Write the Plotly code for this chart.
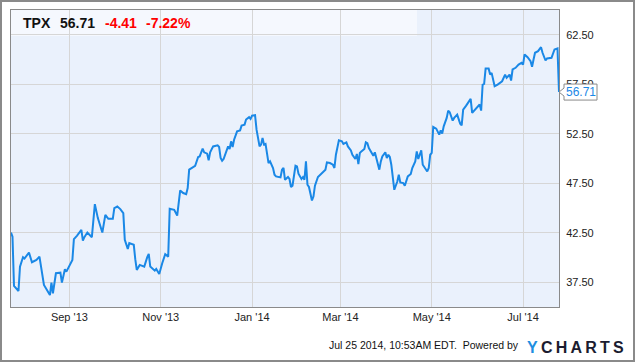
import plotly.graph_objects as go

# ---------------- data ----------------
ticker = "TPX"
last_price = 56.71
change = -4.41
change_pct = -7.22

dates = [
    "2013-07-24", "2013-07-25", "2013-07-26", "2013-07-29", "2013-07-30", "2013-08-01", "2013-08-02",
    "2013-08-05", "2013-08-07", "2013-08-10", "2013-08-12", "2013-08-15", "2013-08-19", "2013-08-20",
    "2013-08-21", "2013-08-22", "2013-08-23", "2013-08-26", "2013-08-27", "2013-08-29", "2013-08-30",
    "2013-09-03", "2013-09-04", "2013-09-06", "2013-09-09", "2013-09-10", "2013-09-11", "2013-09-13",
    "2013-09-16", "2013-09-18", "2013-09-20", "2013-09-23", "2013-09-25", "2013-09-27", "2013-09-30",
    "2013-10-01", "2013-10-03", "2013-10-05", "2013-10-07", "2013-10-08", "2013-10-10", "2013-10-11",
    "2013-10-14", "2013-10-15", "2013-10-16", "2013-10-18", "2013-10-21", "2013-10-23", "2013-10-24",
    "2013-10-25", "2013-10-28", "2013-10-29", "2013-10-31", "2013-11-02", "2013-11-04", "2013-11-06",
    "2013-11-07", "2013-11-10", "2013-11-12", "2013-11-14", "2013-11-16", "2013-11-18", "2013-11-19",
    "2013-11-20", "2013-11-22", "2013-11-24", "2013-11-26", "2013-11-27", "2013-11-29", "2013-11-30",
    "2013-12-02", "2013-12-03", "2013-12-04", "2013-12-06", "2013-12-09", "2013-12-10", "2013-12-11",
    "2013-12-12", "2013-12-13", "2013-12-15", "2013-12-16", "2013-12-17", "2013-12-18", "2013-12-19",
    "2013-12-20", "2013-12-22", "2013-12-24", "2013-12-25", "2013-12-27", "2013-12-28", "2013-12-30",
    "2013-12-31", "2014-01-01", "2014-01-03", "2014-01-04", "2014-01-06", "2014-01-07", "2014-01-08",
    "2014-01-09", "2014-01-10", "2014-01-11", "2014-01-12", "2014-01-13", "2014-01-15", "2014-01-16",
    "2014-01-17", "2014-01-20", "2014-01-21", "2014-01-22", "2014-01-23", "2014-01-25", "2014-01-26",
    "2014-01-27", "2014-01-28", "2014-01-30", "2014-01-31", "2014-02-01", "2014-02-03", "2014-02-04",
    "2014-02-05", "2014-02-06", "2014-02-07", "2014-02-08", "2014-02-10", "2014-02-11", "2014-02-12",
    "2014-02-14", "2014-02-16", "2014-02-18", "2014-02-19", "2014-02-20", "2014-02-22", "2014-02-24",
    "2014-02-25", "2014-02-26", "2014-02-27", "2014-02-28", "2014-03-02", "2014-03-03", "2014-03-05",
    "2014-03-06", "2014-03-08", "2014-03-09", "2014-03-11", "2014-03-12", "2014-03-13", "2014-03-14",
    "2014-03-15", "2014-03-17", "2014-03-18", "2014-03-19", "2014-03-20", "2014-03-22", "2014-03-23",
    "2014-03-24", "2014-03-26", "2014-03-27", "2014-03-28", "2014-03-29", "2014-03-31", "2014-04-01",
    "2014-04-02", "2014-04-03", "2014-04-04", "2014-04-05", "2014-04-06", "2014-04-08", "2014-04-09",
    "2014-04-10", "2014-04-12", "2014-04-13", "2014-04-15", "2014-04-17", "2014-04-18", "2014-04-20",
    "2014-04-21", "2014-04-22", "2014-04-24", "2014-04-25", "2014-04-26", "2014-04-28", "2014-04-29",
    "2014-04-30", "2014-05-01", "2014-05-02", "2014-05-04", "2014-05-06", "2014-05-07", "2014-05-08",
    "2014-05-09", "2014-05-11", "2014-05-12", "2014-05-13", "2014-05-15", "2014-05-16", "2014-05-18",
    "2014-05-20", "2014-05-21", "2014-05-22", "2014-05-24", "2014-05-27", "2014-05-28", "2014-05-30",
    "2014-06-01", "2014-06-02", "2014-06-03", "2014-06-04", "2014-06-05", "2014-06-06", "2014-06-08",
    "2014-06-09", "2014-06-10", "2014-06-11", "2014-06-12", "2014-06-14", "2014-06-16", "2014-06-17",
    "2014-06-19", "2014-06-20", "2014-06-21", "2014-06-22", "2014-06-23", "2014-06-24", "2014-06-26",
    "2014-06-28", "2014-06-30", "2014-07-01", "2014-07-02", "2014-07-04", "2014-07-06", "2014-07-07",
    "2014-07-08", "2014-07-09", "2014-07-11", "2014-07-12", "2014-07-13", "2014-07-14", "2014-07-15",
    "2014-07-16", "2014-07-17", "2014-07-20", "2014-07-22", "2014-07-23", "2014-07-24", "2014-07-25",
]

prices = [
    42.52, 42.09, 37.13, 36.62, 39.08, 40.03, 39.89,
    40.50, 39.52, 39.76, 40.09, 37.23, 36.21, 37.46,
    36.39, 37.23, 38.41, 38.47, 37.46, 38.82, 38.57,
    39.76, 41.85, 42.19, 42.79, 41.71, 42.05, 42.52,
    42.05, 45.39, 43.98, 42.52, 44.31, 43.91, 43.91,
    44.99, 45.15, 44.89, 44.48, 41.78, 40.87, 41.45,
    41.28, 39.83, 38.75, 39.25, 39.08, 40.03, 40.36,
    39.08, 38.67, 38.85, 38.34, 39.42, 40.33, 40.09,
    44.92, 44.82, 44.24, 46.77, 46.51, 46.39, 47.01,
    48.87, 49.04, 49.27, 50.15, 50.21, 50.99, 50.62,
    50.49, 49.81, 50.62, 51.22, 51.33, 51.16, 50.05,
    49.78, 49.95, 50.72, 51.22, 50.96, 51.73, 51.16,
    51.90, 52.74, 52.84, 53.32, 53.42, 53.93, 54.18,
    54.00, 54.33, 54.38, 52.91, 51.22, 51.40, 52.07,
    51.40, 51.47, 50.56, 49.54, 49.71, 49.04, 48.36,
    48.19, 48.09, 48.87, 49.04, 47.85, 48.13, 47.93,
    47.12, 47.25, 49.27, 49.20, 48.46, 47.93, 48.13,
    47.85, 49.71, 47.35, 47.12, 45.76, 46.16, 47.25,
    48.13, 48.46, 48.80, 48.87, 49.61, 49.54, 49.37,
    49.04, 50.38, 51.06, 51.83, 51.73, 51.47, 51.63,
    51.22, 50.82, 50.38, 49.95, 50.46, 49.44, 50.56,
    50.72, 50.96, 51.63, 51.55, 51.06, 50.62, 50.28,
    50.62, 49.54, 48.87, 49.71, 50.21, 50.62, 50.05,
    50.38, 50.15, 49.37, 48.36, 46.84, 47.68, 48.36,
    47.58, 47.52, 47.25, 48.19, 48.43, 49.04, 49.71,
    50.72, 49.95, 50.82, 49.37, 49.14, 48.69, 49.04,
    50.38, 50.56, 53.19, 53.02, 52.41, 52.84, 52.51,
    53.25, 54.10, 54.84, 54.67, 53.83, 54.10, 54.43,
    53.52, 53.35, 54.94, 55.34, 56.02, 54.61, 54.94,
    55.27, 55.45, 54.84, 57.47, 57.54, 59.09, 59.09,
    58.48, 58.65, 57.80, 57.30, 57.47, 57.64, 57.80,
    58.48, 58.15, 58.31, 58.48, 57.87, 58.99, 59.16,
    59.49, 59.67, 59.49, 60.51, 60.23, 59.83, 59.26,
    60.00, 60.68, 60.84, 61.01, 61.24, 60.68, 60.17,
    59.90, 60.10, 60.17, 61.01, 61.11, 61.12, 56.71,
]

y_tick_vals = [37.5, 42.5, 47.5, 52.5, 57.5, 62.5]
x_tick_vals = ["2013-09-01", "2013-11-01", "2014-01-01", "2014-03-01", "2014-05-01", "2014-07-01"]
x_tick_text = ["Sep '13", "Nov '13", "Jan '14", "Mar '14", "May '14", "Jul '14"]
footer_text = "Jul 25 2014, 10:53AM EDT.  Powered by"

# ---------------- layout helpers ----------------
W, H = 635, 362
ML, MR, MT, MB = 11, 76, 10, 55
PW, PH = W - ML - MR, H - MT - MB
Y_RANGE = [35, 65]


def px(x):
    return (x - ML) / PW


def py(y):
    return (H - MB - y) / PH


def dy(pixels):
    return pixels * (Y_RANGE[1] - Y_RANGE[0]) / PH


FONT = "Liberation Sans, Arial, sans-serif"
LINE_BLUE = "#1a88e6"

fig = go.Figure()
fig.add_trace(go.Scatter(
    x=dates, y=prices, mode="lines",
    line=dict(color=LINE_BLUE, width=2),
    hoverinfo="skip", showlegend=False,
))

shapes = [
    # header band
    dict(type="rect", xref="paper", yref="paper", x0=0, x1=px(417), y0=py(36), y1=1,
         fillcolor="#f5f8fe", line=dict(width=0), layer="below"),
    # outer image border
    dict(type="rect", xref="paper", yref="paper", x0=px(1), x1=px(634), y0=py(361), y1=py(1),
         line=dict(color="#8a8a8a", width=2), fillcolor="rgba(0,0,0,0)", layer="above"),
]

# callout for last price
x_tip = 1.0
x_box0 = 1.0 + 5 / PW
x_box1 = 1.0 + 38 / PW
yl = last_price
callout_path = (
    f"M {x_tip},{yl} L {x_box0},{yl + dy(4)} L {x_box0},{yl + dy(8)} "
    f"L {x_box1},{yl + dy(8)} L {x_box1},{yl - dy(8)} L {x_box0},{yl - dy(8)} "
    f"L {x_box0},{yl - dy(4)} Z"
)
shapes.append(dict(type="path", xref="paper", yref="y", path=callout_path,
                   fillcolor="white", line=dict(color="#8a8a8a", width=1), layer="above"))

annotations = [
    dict(xref="paper", yref="y", x=(x_box0 + x_box1) / 2, y=yl, text=f"{last_price:.2f}",
         showarrow=False, xanchor="center", yanchor="middle",
         font=dict(family=FONT, size=12, color=LINE_BLUE)),
    # header
    dict(xref="paper", yref="paper", x=px(21), y=py(23.5), text=f"<b>{ticker}</b>",
         showarrow=False, xanchor="left", yanchor="middle",
         font=dict(family=FONT, size=14, color="#111111")),
    dict(xref="paper", yref="paper", x=px(58), y=py(23.5), text=f"<b>{last_price:.2f}</b>",
         showarrow=False, xanchor="left", yanchor="middle",
         font=dict(family=FONT, size=14, color="#111111")),
    dict(xref="paper", yref="paper", x=px(103), y=py(23.5), text=f"<b>{change:.2f}</b>",
         showarrow=False, xanchor="left", yanchor="middle",
         font=dict(family=FONT, size=14, color="#ff0000")),
    dict(xref="paper", yref="paper", x=px(144), y=py(23.5), text=f"<b>{change_pct:.2f}%</b>",
         showarrow=False, xanchor="left", yanchor="middle",
         font=dict(family=FONT, size=14, color="#ff0000")),
    # footer
    dict(xref="paper", yref="paper", x=px(327), y=py(345), text=footer_text,
         showarrow=False, xanchor="left", yanchor="middle",
         font=dict(family=FONT, size=10.5, color="#111111")),
    dict(xref="paper", yref="paper", x=px(525), y=py(347),
         text="<b><span style='color:#1e8fe1'>Y</span>\u2009C\u2009H\u2009A\u2009R\u2009T\u2009S</b>",
         showarrow=False, xanchor="left", yanchor="middle",
         font=dict(family=FONT, size=16, color="#1b1c30")),
]

fig.update_layout(
    width=W, height=H,
    margin=dict(l=ML, r=MR, t=MT, b=MB, pad=0),
    paper_bgcolor="white",
    plot_bgcolor="#eaf1fc",
    showlegend=False,
    shapes=shapes,
    annotations=annotations,
    xaxis=dict(
        type="date", range=["2013-07-24", "2014-07-25"],
        tickvals=x_tick_vals, ticktext=x_tick_text,
        showgrid=True, gridcolor="#d6d6d6", gridwidth=1,
        showline=True, linecolor="#8a8a8a", linewidth=1, mirror=True,
        ticks="", zeroline=False,
        tickfont=dict(family=FONT, size=11, color="#222222"),
        fixedrange=True,
    ),
    yaxis=dict(
        range=Y_RANGE, side="right",
        tickvals=y_tick_vals, tickformat=".2f",
        showgrid=True, gridcolor="#d6d6d6", gridwidth=1,
        showline=True, linecolor="#8a8a8a", linewidth=1, mirror=True,
        ticks="", zeroline=False, ticklabelstandoff=4,
        tickfont=dict(family=FONT, size=11, color="#222222"),
        fixedrange=True,
    ),
)

fig.write_html("out.html", config={"displayModeBar": False})
